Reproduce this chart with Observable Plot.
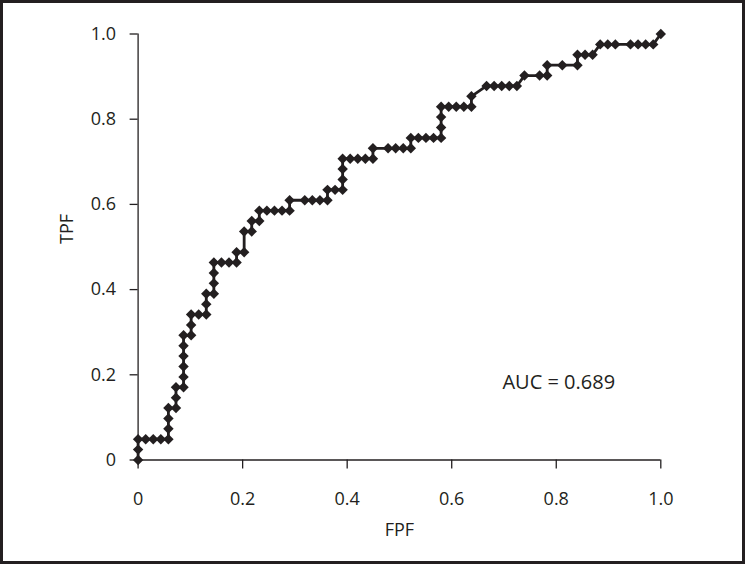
<!DOCTYPE html>
<html>
<head>
<meta charset="utf-8">
<script src="https://cdn.jsdelivr.net/npm/d3@7"></script>
<script src="https://cdn.jsdelivr.net/npm/@observablehq/plot@0.6"></script>
<style>
  html, body { margin: 0; padding: 0; background: #ffffff; }
  #chart svg { display: block; }
</style>
</head>
<body>
<div id="chart"></div>
<script>
const nNegatives = 69;
const nPositives = 41;
const fpCounts = [0,0,0,1,2,3,4,4,4,4,5,5,5,6,6,6,6,6,6,7,7,7,8,9,9,9,10,10,10,10,11,12,13,13,14,14,15,15,16,16,17,18,19,20,20,22,23,24,25,25,26,27,27,27,27,28,29,30,31,31,33,34,35,36,36,37,38,39,40,40,40,40,41,42,43,44,44,46,47,48,49,50,51,53,54,54,56,58,58,59,60,61,62,63,65,66,67,68,69];
const tpCounts = [0,1,2,2,2,2,2,3,4,5,5,6,7,7,8,9,10,11,12,12,13,14,14,14,15,16,16,17,18,19,19,19,19,20,20,22,22,23,23,24,24,24,24,24,25,25,25,25,25,26,26,26,27,28,29,29,29,29,29,30,30,30,30,30,31,31,31,31,31,32,33,34,34,34,34,34,35,36,36,36,36,36,37,37,37,38,38,38,39,39,39,40,40,40,40,40,40,40,41];

const xTicks = [0, 0.2, 0.4, 0.6, 0.8, 1.0];
const xTickLabels = ["0", "0.2", "0.4", "0.6", "0.8", "1.0"];
const yTicks = [0, 0.2, 0.4, 0.6, 0.8, 1.0];
const yTickLabels = ["0", "0.2", "0.4", "0.6", "0.8", "1.0"];
const xLabel = "FPF";
const yLabel = "TPF";
const aucText = "AUC = 0.689";
const aucAt = {fpf: 0.697, tpf: 0.181};

const points = fpCounts.map((k, i) => ({fpf: k / nNegatives, tpf: tpCounts[i] / nPositives}));

const ink = "#231f20";

const chart = Plot.plot({
  width: 745,
  height: 564,
  marginLeft: 137.6,
  marginRight: 84.7,
  marginTop: 33.5,
  marginBottom: 104.5,
  x: {domain: [0, 1]},
  y: {domain: [0, 1]},
  style: {fontFamily: "'Open Sans', sans-serif", fontSize: "18px", color: ink, background: "#ffffff"},
  marks: [
    Plot.axisX({ticks: xTicks, tickFormat: d => xTickLabels[xTicks.indexOf(d)], tickSize: 9, tickPadding: 23, fontSize: 18, strokeWidth: 1.3, label: null}),
    Plot.axisY({ticks: yTicks, tickFormat: d => yTickLabels[yTicks.indexOf(d)], tickSize: 8, tickPadding: 14, fontSize: 18, strokeWidth: 1.3, label: null}),
    Plot.ruleY([0], {x1: 0, x2: 1, stroke: ink, strokeWidth: 1.3}),
    Plot.ruleX([0], {y1: 0, y2: 1, stroke: ink, strokeWidth: 1.3}),
    Plot.line(points, {x: "fpf", y: "tpf", stroke: ink, strokeWidth: 2.8}),
    Plot.dot(points, {x: "fpf", y: "tpf", symbol: "diamond2", r: 4.7, fill: ink, stroke: "none"}),
    Plot.text([aucText], {x: aucAt.fpf, y: aucAt.tpf, text: d => d, textAnchor: "start", lineAnchor: "middle", fontSize: 20, fill: ink}),
    Plot.text([xLabel], {frameAnchor: "bottom", dy: 70, text: d => d, lineAnchor: "middle", fontSize: 18, fill: ink}),
    Plot.text([yLabel], {frameAnchor: "left", dx: -70.6, dy: -3, rotate: -90, text: d => d, lineAnchor: "middle", fontSize: 18, fill: ink})
  ]
});
chart.style.outline = "3px solid " + ink;
chart.style.outlineOffset = "-3px";
document.getElementById("chart").appendChild(chart);
</script>
</body>
</html>
